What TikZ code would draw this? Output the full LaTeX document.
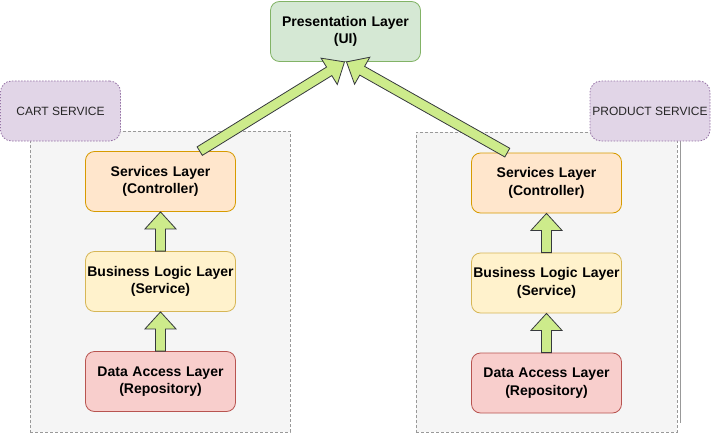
\documentclass[tikz,border=0pt]{standalone}
\usepackage{fontspec}
\setmainfont{Liberation Sans}
\usetikzlibrary{calc,positioning}

\definecolor{uifill}{HTML}{D5E8D4}
\definecolor{uiline}{HTML}{82B366}
\definecolor{ctrlfill}{HTML}{FFE6CC}
\definecolor{ctrlline}{HTML}{D79B00}
\definecolor{svcfill}{HTML}{FFF2CC}
\definecolor{svcline}{HTML}{D6B656}
\definecolor{repofill}{HTML}{F8CECC}
\definecolor{repoline}{HTML}{B85450}
\definecolor{tagfill}{HTML}{E1D5E7}
\definecolor{tagline}{HTML}{9673A6}
\definecolor{groupfill}{HTML}{F5F5F5}
\definecolor{groupline}{HTML}{999999}
\definecolor{arrowfill}{HTML}{CDEB8B}
\definecolor{arrowline}{HTML}{36393D}

\newcommand\flexarrow[3][17pt]{%
  \path (#2) coordinate (fa-tail) (#3) coordinate (fa-tip)
        ($(fa-tip)!#1!(fa-tail)$) coordinate (fa-base);
  \draw[flex] ($(fa-tail)!5pt!90:(fa-tip)$) -- ($(fa-base)!5pt!90:(fa-tip)$)
    -- ($(fa-base)!15.5pt!90:(fa-tip)$) -- (fa-tip) -- ($(fa-base)!15.5pt!-90:(fa-tip)$)
    -- ($(fa-base)!5pt!-90:(fa-tip)$) -- ($(fa-tail)!5pt!-90:(fa-tip)$) -- cycle;}

\begin{document}
\begin{tikzpicture}[x=1pt, y=-1pt, node distance=100pt,
  layer/.style={rectangle, rounded corners=9pt, draw, line width=0.8pt, text width=148pt, align=center, minimum width=150pt, minimum height=60pt, inner sep=0pt, font=\fontsize{14}{17.5}\selectfont\bfseries},
  group/.style={rectangle, draw=groupline, fill=groupfill, line width=0.6pt, dash pattern=on 3pt off 2pt, inner sep=0pt},
  tag/.style={rectangle, rounded corners=11pt, draw=tagline, fill=tagfill, line width=0.8pt, dash pattern=on 1.5pt off 1.5pt, minimum width=120pt, minimum height=60pt, inner sep=0pt, text=black!85, font=\fontsize{12}{14}\selectfont},
  flex/.style={draw=arrowline, fill=arrowfill, line width=0.8pt, line join=miter},]
   \useasboundingbox (0,0) rectangle (711,433);
   \node[group, minimum width=260pt, minimum height=301pt] (cartgroup) at (160,281.5) {};
   \node[group, minimum width=261pt, minimum height=300pt] (productgroup) at (546.5,282) {};
   \draw[groupline, line width=0.6pt] (680,141) -- (680,423);
   \node[tag] (carttag) at (60.5,111) {CART SERVICE};
   \node[tag] (producttag) at (650,111) {PRODUCT SERVICE};

   \node[layer, fill=uifill, draw=uiline] (ui) at (345.5,31.5) {Presentation Layer\\(UI)};

   \node[layer, fill=ctrlfill, draw=ctrlline] (ctrlL) at (160.5,181.5) {Services Layer\\(Controller)};
   \node[layer, fill=svcfill, draw=svcline, below of=ctrlL] (svcL) {Business Logic Layer\\(Service)};
   \node[layer, fill=repofill, draw=repoline, below of=svcL] (repoL) {Data Access Layer\\(Repository)};

   \node[layer, fill=ctrlfill, draw=ctrlline] (ctrlR) at (546.5,183) {Services Layer\\(Controller)};
   \node[layer, fill=svcfill, draw=svcline, below of=ctrlR] (svcR) {Business Logic Layer\\(Service)};
   \node[layer, fill=repofill, draw=repoline, below of=svcR] (repoR) {Data Access Layer\\(Repository)};

   \coordinate (upL) at ($(ctrlL.north west)!0.76!(ctrlL.north east)$);
   \coordinate (upR) at ($(ctrlR.north west)!0.24!(ctrlR.north east)$);

   \flexarrow{repoL.north}{svcL.south}
   \flexarrow{svcL.north}{ctrlL.south}
   \flexarrow{repoR.north}{svcR.south}
   \flexarrow{svcR.north}{ctrlR.south}
   \flexarrow[18pt]{upL}{[xshift=-1pt]ui.south}
   \flexarrow[18pt]{upR}{[xshift=1pt]ui.south}
\end{tikzpicture}
\end{document}
